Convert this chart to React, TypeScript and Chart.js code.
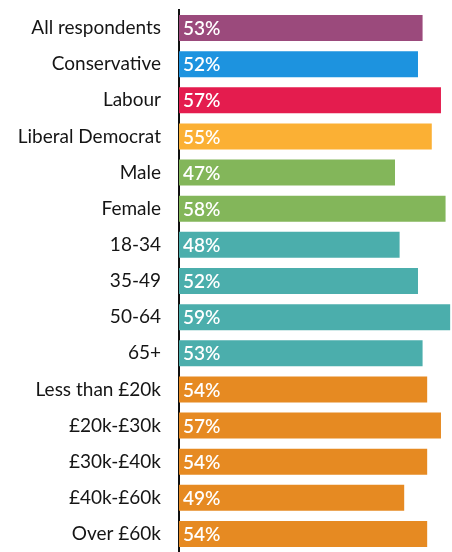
import React, { useEffect, useRef } from "react";
import { Chart, registerables } from "chart.js";

Chart.register(...registerables);

const categories = [
  "All respondents",
  "Conservative",
  "Labour",
  "Liberal Democrat",
  "Male",
  "Female",
  "18-34",
  "35-49",
  "50-64",
  "65+",
  "Less than £20k",
  "£20k-£30k",
  "£30k-£40k",
  "£40k-£60k",
  "Over £60k",
];

const values = [53, 52, 57, 55, 47, 58, 48, 52, 59, 53, 54, 57, 54, 49, 54];

const barColors = [
  "#9B4A7C",
  "#1D93DF",
  "#E41C4E",
  "#FBB034",
  "#83B65A",
  "#83B65A",
  "#4BAEAC",
  "#4BAEAC",
  "#4BAEAC",
  "#4BAEAC",
  "#E68A22",
  "#E68A22",
  "#E68A22",
  "#E68A22",
  "#E68A22",
];

const valueLabelPlugin = {
  id: "valueLabels",
  afterDatasetsDraw(chart: any) {
    const ctx = chart.ctx;
    const meta = chart.getDatasetMeta(0);
    ctx.save();
    ctx.fillStyle = "#ffffff";
    ctx.font = "600 19px Lato";
    ctx.textAlign = "left";
    ctx.textBaseline = "middle";
    meta.data.forEach((bar: any, i: number) => {
      ctx.fillText(values[i] + "%", bar.base + 4, bar.y + 1);
    });
    ctx.restore();
  },
};

export default function App() {
  const canvasRef = useRef<HTMLCanvasElement | null>(null);

  useEffect(() => {
    document.body.style.margin = "0";
    const canvas = canvasRef.current;
    if (!canvas) return;
    const chart = new Chart(canvas, {
      type: "bar",
      data: {
        labels: categories,
        datasets: [
          {
            data: values,
            backgroundColor: barColors,
            borderWidth: 0,
            barPercentage: 0.72,
            categoryPercentage: 1,
          },
        ],
      },
      options: {
        indexAxis: "y",
        responsive: false,
        animation: false,
        layout: { padding: { top: 10, right: 0, bottom: 0, left: 0 } },
        plugins: {
          legend: { display: false },
          tooltip: { enabled: false },
        },
        scales: {
          x: {
            display: false,
            min: 0,
            max: 59.4,
          },
          y: {
            afterFit(scale: any) {
              scale.width = 179;
              scale.paddingTop = 0;
              scale.paddingBottom = 0;
            },
            grid: { display: false, drawTicks: false },
            border: { display: true, color: "#111", width: 2 },
            ticks: {
              color: "#151515",
              padding: 18,
              font: { family: "Lato", size: 19 },
            },
          },
        },
      },
      plugins: [valueLabelPlugin],
    });
    return () => chart.destroy();
  }, []);

  return (
    <div style={{ width: 452, height: 552 }}>
      <canvas ref={canvasRef} width={452} height={552} />
    </div>
  );
}
